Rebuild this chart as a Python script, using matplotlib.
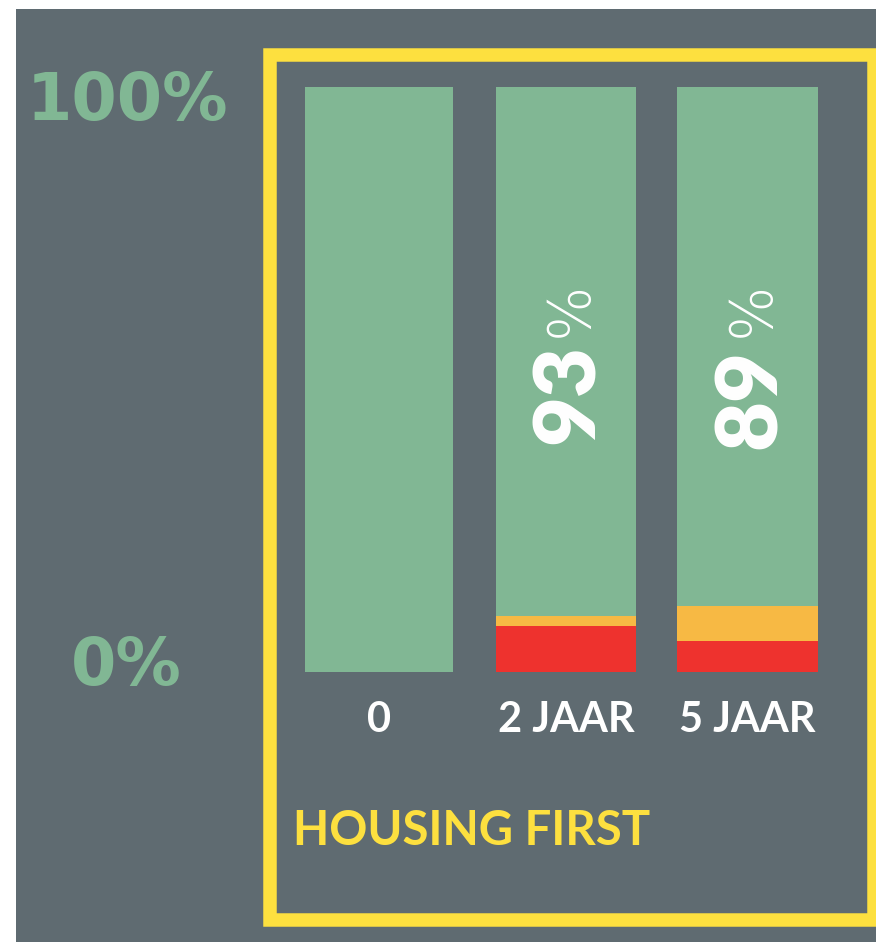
import matplotlib
matplotlib.use("Agg")
import matplotlib.pyplot as plt
from matplotlib.patches import Rectangle
from matplotlib.transforms import blended_transform_factory, offset_copy

# ---- data ----
categories = ["0", "2 JAAR", "5 JAAR"]
red_vals = [0.0, 7.9, 5.3]
orange_vals = [0.0, 1.7, 6.0]
green_vals = [100.0, 90.4, 88.7]
bar_labels = ["", "93%", "89%"]
y_tick_labels = ["0%", "100%"]
title = "HOUSING FIRST"

# ---- style ----
BG = "#5f6b71"
GREEN = "#81b794"
ORANGE = "#f7b944"
RED = "#ee322e"
YELLOW = "#fde03f"
WHITE = "#ffffff"
FONT = ["Lato", "DejaVu Sans"]
WIDE = ["DejaVu Sans"]
plt.rcParams["font.family"] = FONT

W, H = 876, 942
fig = plt.figure(figsize=(W / 100, H / 100), dpi=100, facecolor="white")

def fx(x):
    return x / W

def fy(y):
    return 1 - y / H

# gray background panel
fig.patches.append(Rectangle((fx(16), 0), 1 - fx(16), fy(9), transform=fig.transFigure,
                             facecolor=BG, edgecolor="none", zorder=-10))
# yellow frame
fig.patches.append(Rectangle((fx(269.5), fy(919.5)), (874 - 269.5) / W, (919.5 - 55) / H,
                             transform=fig.transFigure, fill=False, edgecolor=YELLOW,
                             linewidth=13.5 * 72 / 100, joinstyle="miter", zorder=-5))

positions = [0, 1, 1.97]
widths = [0.79, 0.75, 0.755]

ax = fig.add_axes([fx(285.5), fy(672), 561 / W, 585 / H])
ax.set_zorder(2)
ax.set_facecolor("none")
ax.set_xlim(-0.5, 2.5)
ax.set_ylim(0, 100)
for s in ax.spines.values():
    s.set_visible(False)

bottom_orange = red_vals
bottom_green = [r + o for r, o in zip(red_vals, orange_vals)]
ax.bar(positions, red_vals, width=widths, color=RED, linewidth=0)
ax.bar(positions, orange_vals, width=widths, bottom=bottom_orange, color=ORANGE, linewidth=0)
ax.bar(positions, green_vals, width=widths, bottom=bottom_green, color=GREEN, linewidth=0)

ax.set_xticks(positions, categories)
ax.tick_params(axis="x", length=0, pad=21, labelcolor=WHITE, labelsize=30)
for t in ax.get_xticklabels():
    t.set_fontweight("bold")
ax.set_yticks([])

# y labels
ytr = blended_transform_factory(fig.transFigure, ax.transData)
ax.text(fx(126), 0, y_tick_labels[0], transform=offset_copy(ytr, fig=fig, y=-13, units="dots"),
        ha="center", va="baseline", color=GREEN, fontsize=47, fontweight="bold",
        family=WIDE, clip_on=False)
ax.text(fx(128), 100, y_tick_labels[1], transform=offset_copy(ytr, fig=fig, y=-33, units="dots"),
        ha="center", va="baseline", color=GREEN, fontsize=47, fontweight="bold",
        family=WIDE, clip_on=False)

# rotated value labels
num_y = [None, 47.5, 46.7]
pct_y = [None, 62.0, 62.0]
for i, lab in enumerate(bar_labels):
    if not lab:
        continue
    ax.text(positions[i], num_y[i], lab[:-1], rotation=90, ha="center", va="center",
            transform=offset_copy(ax.transData, fig=fig, x=3, units="dots"),
            color=WHITE, fontsize=62, fontweight="heavy")
    ax.text(positions[i], pct_y[i], lab[-1],
            transform=offset_copy(ax.transData, fig=fig, x=5, units="dots"),
            rotation=90, ha="center", va="center", color=WHITE, fontsize=42,
            fontweight="light", family=WIDE)

fig.text(fx(293), fy(845), title, ha="left", va="baseline", color=YELLOW,
         fontsize=34, fontweight="bold")

fig.savefig("out.png", dpi=100, facecolor="white")
